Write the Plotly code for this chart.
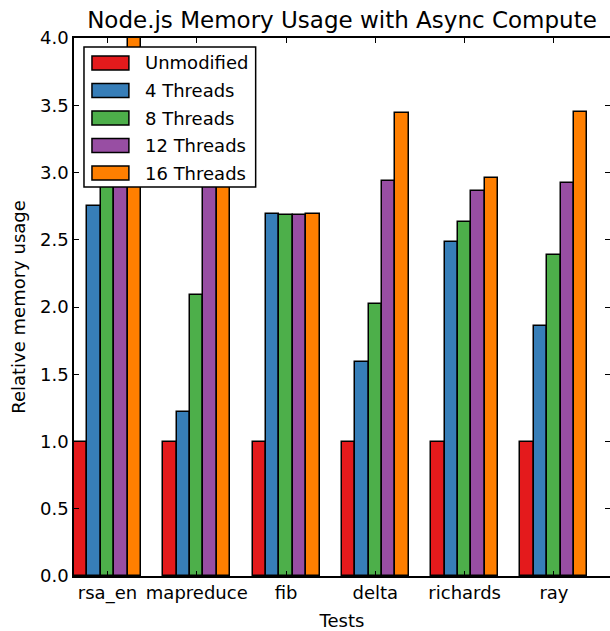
import plotly.graph_objects as go

tests = ["rsa_en", "mapreduce", "fib", "delta", "richards", "ray"]
series_names = ["Unmodified", "4 Threads", "8 Threads", "12 Threads", "16 Threads"]
unmodified = [1.0, 1.0, 1.0, 1.0, 1.0, 1.0]
threads_4 = [2.75, 1.22, 2.69, 1.59, 2.48, 1.86]
threads_8 = [3.05, 2.09, 2.685, 2.02, 2.63, 2.39]
threads_12 = [3.3, 2.95, 2.685, 2.94, 2.86, 2.92]
threads_16 = [4.2, 3.1, 2.695, 3.44, 2.96, 3.45]
y_ticks = [0.0, 0.5, 1.0, 1.5, 2.0, 2.5, 3.0, 3.5, 4.0]

colors = ["#e41a1c", "#377eb8", "#4daf4a", "#984ea3", "#ff7f00"]
series = [unmodified, threads_4, threads_8, threads_12, threads_16]

W, H = 610, 631
L, R, T, B = 74, 611, 38, 576  # plot area in pixels
bw = 0.15
FONT = "DejaVu Sans"

fig = go.Figure()
for k, (name, vals) in enumerate(zip(series_names, series)):
    fig.add_trace(go.Bar(
        x=[i + k * bw + bw / 2 for i in range(len(tests))],
        y=vals, width=bw, name=name,
        marker=dict(color=colors[k], line=dict(color="black", width=1.5)),
        showlegend=False,
    ))

def px_x(p):
    return (p - L) / (R - L)

def px_y(p):
    return (B - p) / (B - T)

shapes = []
annotations = []
# legend box
shapes.append(dict(type="rect", xref="paper", yref="paper",
                   x0=px_x(84), x1=px_x(256), y0=px_y(187), y1=px_y(47),
                   fillcolor="white", line=dict(color="black", width=1.5), layer="above"))
for k, name in enumerate(series_names):
    cy = 63 + k * 27.5
    shapes.append(dict(type="rect", xref="paper", yref="paper",
                       x0=px_x(92), x1=px_x(129), y0=px_y(cy + 7), y1=px_y(cy - 7),
                       fillcolor=colors[k], line=dict(color="black", width=1.5), layer="above"))
    annotations.append(dict(xref="paper", yref="paper", x=px_x(143), y=px_y(cy),
                            xanchor="left", yanchor="middle", text=name, showarrow=False,
                            font=dict(family=FONT, size=18, color="black")))

fig.update_layout(
    width=W, height=H,
    margin=dict(l=L, r=0, t=T, b=H - B, autoexpand=False),
    paper_bgcolor="white", plot_bgcolor="white",
    barmode="overlay", bargap=0,
    font=dict(family=FONT, size=18, color="black"),
    title=dict(text="Node.js Memory Usage with Async Compute", x=0.5, xref="paper",
               y=1, yref="paper", yanchor="bottom", pad=dict(b=10),
               font=dict(family=FONT, size=23, color="black")),
    shapes=shapes, annotations=annotations,
)
fig.update_xaxes(
    range=[0, len(tests) + 0.003], automargin=False,
    tickvals=[i + 2.5 * bw for i in range(len(tests))], ticktext=tests,
    ticks="inside", ticklen=5, tickwidth=1, tickcolor="black",
    showline=True, linecolor="black", linewidth=1.5, mirror="ticks",
    showgrid=False, zeroline=False,
    title=dict(text="Tests", standoff=12, font=dict(family=FONT, size=18)),
    tickfont=dict(family=FONT, size=18),
)
fig.update_yaxes(
    range=[0, 4.0], automargin=False,
    tickvals=y_ticks, ticktext=[f"{v:.1f}" for v in y_ticks],
    ticks="inside", ticklen=5, tickwidth=1, tickcolor="black",
    showline=True, linecolor="black", linewidth=1.5, mirror="ticks",
    showgrid=False, zeroline=False,
    title=dict(text="Relative memory usage", standoff=10, font=dict(family=FONT, size=18)),
    tickfont=dict(family=FONT, size=18),
)
fig.write_html("out.html", config={"displayModeBar": False},
               post_script="document.body.style.margin='0';document.body.style.overflow='hidden';")
